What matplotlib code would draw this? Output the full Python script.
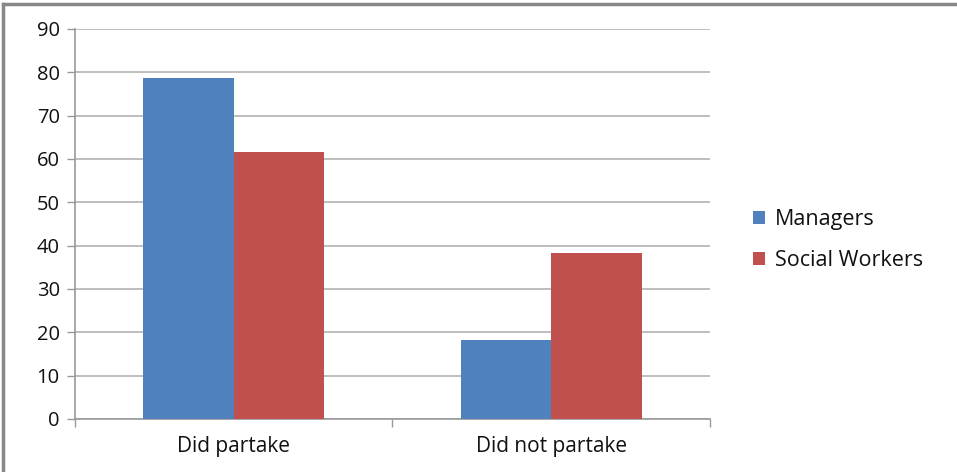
import matplotlib
matplotlib.use("Agg")
import matplotlib.pyplot as plt
import numpy as np

categories = ["Did partake", "Did not partake"]
managers = [78.7, 18.2]
social_workers = [61.7, 38.2]
series_names = ["Managers", "Social Workers"]
colors = ["#4F81BD", "#C0504D"]

plt.rcParams['font.family'] = ['Open Sans', 'DejaVu Sans']

fig = plt.figure(figsize=(9.57, 4.72), dpi=100)
ax = fig.add_axes([75 / 957, 1 - 419 / 472, 635 / 957, 390 / 472])

x = np.arange(len(categories))
width = 1 / 3.5
ax.bar(x - width / 2, managers, width, color=colors[0], label=series_names[0], zorder=3)
ax.bar(x + width / 2, social_workers, width, color=colors[1], label=series_names[1], zorder=3)

ax.set_xlim(-0.5, 1.5)
ax.set_ylim(0, 90)
ax.set_yticks(np.arange(0, 91, 10))
ax.yaxis.grid(True, color="#B3B3B3", linewidth=1.2, zorder=0)
ax.set_xticks(x)
ax.set_xticklabels(categories)
ax.tick_params(axis='x', length=0, pad=12, labelsize=15, colors="#111111")
ax.set_xticks([-0.5, 0.5, 1.5], minor=True)
ax.tick_params(axis='x', which='minor', length=6, color="#999999", width=1)
ax.tick_params(axis='y', length=6, width=1, pad=5, labelsize=14.5, colors="#111111")
ax.tick_params(axis='y', color="#999999")
for s in ["top", "right"]:
    ax.spines[s].set_visible(False)
for s in ["left", "bottom"]:
    ax.spines[s].set_color("#999999")
    ax.spines[s].set_linewidth(1.2)

ax.legend(loc="center left", bbox_to_anchor=(753 / 957, 1 - 240 / 472), bbox_transform=fig.transFigure,
          frameon=False, fontsize=15.5, handlelength=0.55, handleheight=0.55, handletextpad=0.45,
          labelspacing=0.95, labelcolor="#111111", borderpad=0, borderaxespad=0)

# outer chart border (only top and left visible)
fig.add_artist(plt.Line2D([3 / 957, 3 / 957], [0, 1 - 4 / 472], color="#888888", linewidth=2.5))
fig.add_artist(plt.Line2D([3 / 957, 1], [1 - 4 / 472, 1 - 4 / 472], color="#888888", linewidth=2.5))

fig.savefig("out.png", dpi=100)
